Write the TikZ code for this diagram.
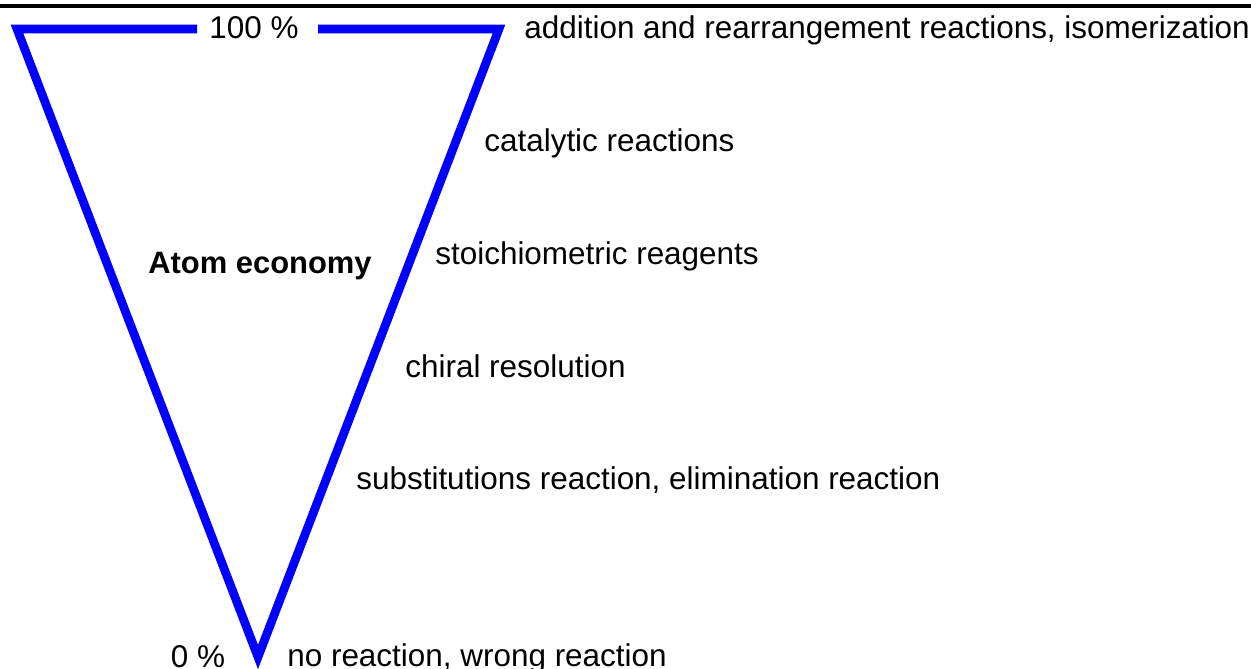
\documentclass[tikz,border=0pt]{standalone}
\usepackage{xcolor}
\usepackage{fontspec}
\setmainfont{Liberation Sans}
\usepackage{tikz}
\definecolor{ink}   {HTML}{000000}
\definecolor{funnel}{HTML}{0000FF}

\begin{document}
\begin{tikzpicture}[
    x=0.02cm, y=-0.02cm,
    line join=miter,
    %% --- semantic styles ---
    funnelline/.style   = {draw=funnel, line width=0.174cm, miter limit=10},
    ruleline/.style     = {draw=ink, line width=0.07cm},
    stagelabel/.style   = {inner sep=0pt, anchor=base west, text=ink,
                           font=\fontsize{17.9}{21}\selectfont},
    percentlabel/.style = {stagelabel, anchor=base},
    titlelabel/.style   = {stagelabel, font=\fontsize{17.6}{21}\selectfont\bfseries}
]
\useasboundingbox (0,0) rectangle (1251,669);

%% =====================================================
%% Top rule
%% =====================================================
\coordinate (RL) at (0,6);
\coordinate (RR) at (1251,6);
\draw[ruleline] (RL) -- (RR);

%% =====================================================
%% FUNNEL — open at the top for the 100 % mark
%% =====================================================
\coordinate (TL)   at (17,29);
\coordinate (TR)   at (499,29);
\coordinate (TIP)  at (258,657);
\coordinate (GAPL) at (197,29);
\coordinate (GAPR) at (318,29);
\draw[funnelline] (GAPL) -- (TL) -- (TIP) -- (TR) -- (GAPR);

\node[percentlabel] (P100) at (254,39)  {100 \%};
\node[percentlabel] (P0)   at (198,667) {0 \%};
\node[titlelabel]   (ATOM) at (148,273) {Atom economy};

%% =====================================================
%% Reaction types, best to worst
%% =====================================================
\node[stagelabel] (ADD) at (524,39)  {addition and rearrangement reactions, isomerization};
\node[stagelabel] (CAT) at (484,152) {catalytic reactions};
\node[stagelabel] (STO) at (435,264) {stoichiometric reagents};
\node[stagelabel] (CHI) at (405,377) {chiral resolution};
\node[stagelabel] (SUB) at (356,489) {substitutions reaction, elimination reaction};
\node[stagelabel] (NOR) at (287,666) {no reaction, wrong reaction};

\end{tikzpicture}
\end{document}
